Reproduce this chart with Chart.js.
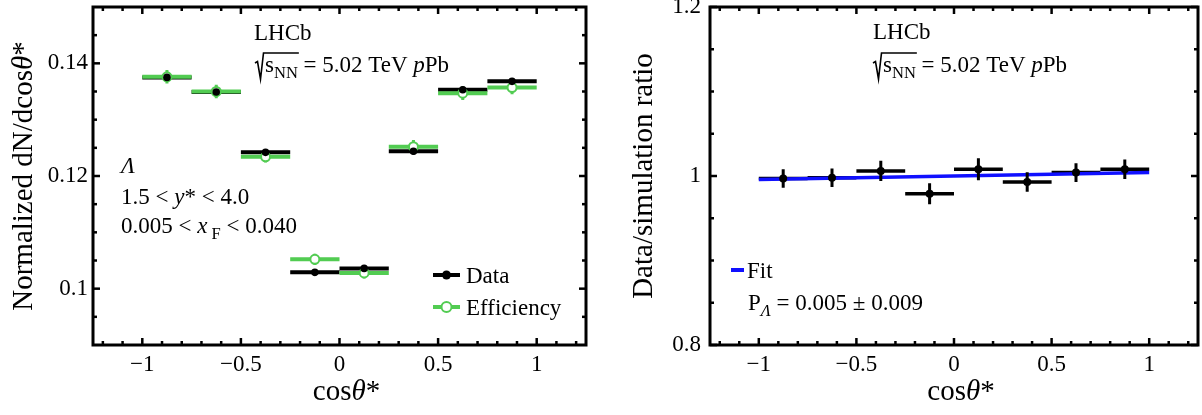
<!DOCTYPE html>
<html>
<head>
<meta charset="utf-8">
<script src="https://cdn.jsdelivr.net/npm/chart.js@4/dist/chart.umd.min.js"></script>
<style>
  html, body { margin: 0; padding: 0; background: #fff; }
  #wrap { position: relative; width: 1202px; height: 415px; }
  canvas { position: absolute; top: 0; }
</style>
</head>
<body>
<div id="wrap">
  <canvas id="left" width="600" height="415" style="left:0"></canvas>
  <canvas id="right" width="602" height="415" style="left:600px"></canvas>
</div>
<script>
/* =====================================
   Data
===================================== */
const binLow  = [-1, -0.75, -0.5, -0.25, 0, 0.25, 0.5, 0.75];
const binHigh = [-0.75, -0.5, -0.25, 0, 0.25, 0.5, 0.75, 1];
const binMid  = [-0.875, -0.625, -0.375, -0.125, 0.125, 0.375, 0.625, 0.875];

const dataValues = [0.1375, 0.1349, 0.1242, 0.1029, 0.1036, 0.1244, 0.1353, 0.1368];
const dataErrors = [0.0006, 0.0006, 0.0006, 0.0006, 0.0006, 0.0006, 0.0006, 0.0006];
const effValues  = [0.1376, 0.1350, 0.1234, 0.1052, 0.1028, 0.1252, 0.1347, 0.1357];
const effErrors  = [0.0012, 0.0012, 0.0010, 0.0010, 0.0010, 0.0012, 0.0012, 0.0012];

const ratioValues = [0.997, 0.998, 1.006, 0.979, 1.008, 0.993, 1.004, 1.008];
const ratioErrors = [0.011, 0.011, 0.012, 0.0125, 0.013, 0.0115, 0.011, 0.0115];
const fitX = [-1, 1];
const fitY = [0.996, 1.004];

/* ticks */
const xMajor = [-1, -0.5, 0, 0.5, 1];
const xMinor = [-1.2, -1.1, -0.9, -0.8, -0.7, -0.6, -0.4, -0.3, -0.2, -0.1,
                0.1, 0.2, 0.3, 0.4, 0.6, 0.7, 0.8, 0.9, 1.1, 1.2];
const leftYMajor = [0.1, 0.12, 0.14];
const leftYMinor = [0.095, 0.105, 0.11, 0.115, 0.125, 0.13, 0.135, 0.145];
const rightYMajor = [0.8, 1, 1.2];
const rightYMinor = [0.85, 0.9, 0.95, 1.05, 1.1, 1.15];

/* =====================================
   Helpers
===================================== */
const SERIF = '"Liberation Serif", "Times New Roman", serif';
const GREEN = '#52cc52';
Chart.defaults.font.family = SERIF;
Chart.defaults.color = '#000';

function hSegments(values) {
  const pts = [];
  values.forEach((v, i) => {
    pts.push({ x: binLow[i], y: v }, { x: binHigh[i], y: v }, { x: binHigh[i], y: null });
  });
  return pts;
}
function vSegments(values, errs) {
  const pts = [];
  values.forEach((v, i) => {
    pts.push({ x: binMid[i], y: v - errs[i] }, { x: binMid[i], y: v + errs[i] }, { x: binMid[i], y: null });
  });
  return pts;
}
function markers(values) {
  return values.map((v, i) => ({ x: binMid[i], y: v }));
}
function fmt(v) {
  return v < 0 ? '\u2212' + String(Math.abs(v)) : String(v);
}

// parts: [text, style]  style: n normal, i italic, s subscript, is italic subscript
function richText(ctx, x, y, parts, size, align) {
  const fontFor = st => {
    const sub = st === 's' || st === 'is';
    const it = st === 'i' || st === 'is';
    return (it ? 'italic ' : '') + (sub ? size * 0.72 : size) + 'px ' + SERIF;
  };
  let w = 0;
  parts.forEach(p => { ctx.font = fontFor(p[1]); w += ctx.measureText(p[0]).width; });
  let cx = align === 'center' ? x - w / 2 : x;
  parts.forEach(p => {
    ctx.font = fontFor(p[1]);
    const dy = (p[1] === 's' || p[1] === 'is') ? size * 0.26 : 0;
    ctx.fillText(p[0], cx, y + dy);
    cx += ctx.measureText(p[0]).width;
  });
  return w;
}

function sqrtLabel(ctx, x, y, size) {
  ctx.save();
  ctx.font = size + 'px ' + SERIF;
  const wS = ctx.measureText('s').width;
  ctx.font = (size * 0.72) + 'px ' + SERIF;
  const wNN = ctx.measureText('NN').width;
  ctx.strokeStyle = '#000';
  ctx.lineWidth = 1.6;
  ctx.beginPath();
  ctx.moveTo(x, y - 9);
  ctx.lineTo(x + 2.5, y - 10.5);
  ctx.lineTo(x + 5.5, y + 7);
  ctx.lineTo(x + 8.5, y - 19);
  ctx.lineTo(x + 10 + wS + wNN + 1, y - 19);
  ctx.stroke();
  ctx.restore();
  richText(ctx, x + 10, y, [['s', 'n'], ['NN', 's'], [' = 5.02 TeV ', 'n'], ['p', 'i'], ['Pb', 'n']], size, 'left');
}

function frameAndTicks(chart, yMajor, yMinor) {
  const { ctx, chartArea: a, scales: { x, y } } = chart;
  ctx.save();
  ctx.strokeStyle = '#000';
  ctx.lineCap = 'butt';
  const seg = (x1, y1, x2, y2) => { ctx.beginPath(); ctx.moveTo(x1, y1); ctx.lineTo(x2, y2); ctx.stroke(); };
  ctx.lineWidth = 2.5;
  const tx = (v, len) => {
    const p = x.getPixelForValue(v);
    seg(p, a.bottom, p, a.bottom - len);
    seg(p, a.top, p, a.top + len);
  };
  const ty = (v, len) => {
    const p = y.getPixelForValue(v);
    seg(a.left, p, a.left + len, p);
    seg(a.right, p, a.right - len, p);
  };
  xMajor.forEach(v => tx(v, 7));
  xMinor.forEach(v => tx(v, 4));
  yMajor.forEach(v => ty(v, 7));
  yMinor.forEach(v => ty(v, 4));
  ctx.lineWidth = 3;
  ctx.strokeRect(a.left, a.top, a.right - a.left, a.bottom - a.top);
  ctx.restore();
}

function axisTitles(chart, yParts, yBaseline) {
  const { ctx, chartArea: a, scales: { x } } = chart;
  ctx.save();
  ctx.fillStyle = '#000';
  ctx.textBaseline = 'alphabetic';
  richText(ctx, x.getPixelForValue(0) + 7, 400, [['cos', 'n'], ['\u03B8', 'i'], ['*', 'n']], 29, 'center');
  ctx.translate(yBaseline, (a.top + a.bottom) / 2);
  ctx.rotate(-Math.PI / 2);
  richText(ctx, 0, 0, yParts, 29, 'center');
  ctx.restore();
}

function baseOptions(yMin, yMax, yTicks, yWidth, padRight, yPad) {
  return {
    responsive: false,
    animation: false,
    devicePixelRatio: 1,
    events: [],
    layout: { padding: { top: 7, right: padRight, left: 0, bottom: 0 } },
    plugins: { legend: { display: false }, tooltip: { enabled: false } },
    scales: {
      x: {
        type: 'linear', min: -1.25, max: 1.25,
        grid: { display: false, drawTicks: false },
        border: { display: false },
        afterBuildTicks: s => { s.ticks = xMajor.map(v => ({ value: v })); },
        afterFit: s => { s.height = 70; s.paddingLeft = 0; s.paddingRight = 0; },
        ticks: { padding: 6, font: { size: 23 }, color: '#000', maxRotation: 0, callback: v => fmt(v) }
      },
      y: {
        type: 'linear', min: yMin, max: yMax,
        grid: { display: false, drawTicks: false },
        border: { display: false },
        afterBuildTicks: s => { s.ticks = yTicks.map(v => ({ value: v })); },
        afterFit: s => { s.width = yWidth; s.paddingTop = 0; s.paddingBottom = 0; },
        ticks: { padding: yPad, font: { size: 23 }, color: '#000', callback: v => fmt(v) }
      }
    }
  };
}

const segStyle = { pointRadius: 0, showLine: true, borderCapStyle: 'butt', spanGaps: false, fill: false };

/* =====================================
   Left panel: normalized distribution
===================================== */
new Chart(document.getElementById('left'), {
  type: 'line',
  data: {
    datasets: [
      { data: hSegments(dataValues), borderColor: '#000', borderWidth: 4, order: 6, ...segStyle },
      { data: vSegments(dataValues, dataErrors), borderColor: '#000', borderWidth: 3, order: 5, ...segStyle },
      { data: hSegments(effValues), borderColor: GREEN, borderWidth: 4, order: 4, ...segStyle },
      { data: vSegments(effValues, effErrors), borderColor: GREEN, borderWidth: 3, order: 3, ...segStyle },
      { data: markers(effValues), showLine: false, pointRadius: 4.5, pointBorderWidth: 2,
        pointBorderColor: GREEN, pointBackgroundColor: '#fff', order: 2 },
      { data: markers(dataValues), showLine: false, pointRadius: 3.8, pointBorderWidth: 0,
        pointBackgroundColor: '#000', pointBorderColor: '#000', order: 1 }
    ]
  },
  options: baseOptions(0.09, 0.15, leftYMajor, 93, 14, 5),
  plugins: [{
    id: 'leftDecor',
    afterDraw(chart) {
      const ctx = chart.ctx;
      frameAndTicks(chart, leftYMajor, leftYMinor);
      axisTitles(chart, [['Normalized dN/dcos', 'n'], ['\u03B8', 'i'], ['*', 'n']], 32);
      ctx.save();
      ctx.fillStyle = '#000';
      richText(ctx, 254, 40, [['LHCb', 'n']], 23, 'left');
      sqrtLabel(ctx, 255, 72, 23);
      richText(ctx, 121, 173, [['\u039B', 'i']], 23, 'left');
      richText(ctx, 121, 204, [['1.5 < ', 'n'], ['y', 'i'], ['* < 4.0', 'n']], 23, 'left');
      richText(ctx, 121, 233, [['0.005 < ', 'n'], ['x', 'i'], [' F', 's'], [' < 0.040', 'n']], 23, 'left');
      // legend
      ctx.lineWidth = 4;
      ctx.strokeStyle = '#000';
      ctx.beginPath(); ctx.moveTo(433, 275); ctx.lineTo(460, 275); ctx.stroke();
      ctx.beginPath(); ctx.arc(446.5, 275, 4.5, 0, Math.PI * 2); ctx.fillStyle = '#000'; ctx.fill();
      ctx.strokeStyle = GREEN;
      ctx.beginPath(); ctx.moveTo(433, 307); ctx.lineTo(460, 307); ctx.stroke();
      ctx.lineWidth = 2;
      ctx.beginPath(); ctx.arc(446.5, 307, 5, 0, Math.PI * 2); ctx.fillStyle = '#fff'; ctx.fill(); ctx.stroke();
      ctx.fillStyle = '#000';
      richText(ctx, 466, 283, [['Data', 'n']], 23, 'left');
      richText(ctx, 466, 315, [['Efficiency', 'n']], 23, 'left');
      ctx.restore();
    }
  }]
});

/* =====================================
   Right panel: data / simulation ratio
===================================== */
new Chart(document.getElementById('right'), {
  type: 'line',
  data: {
    datasets: [
      { data: hSegments(ratioValues), borderColor: '#000', borderWidth: 3.5, order: 4, ...segStyle },
      { data: fitX.map((v, i) => ({ x: v, y: fitY[i] })), borderColor: '#1010ff', borderWidth: 3.5, order: 3, ...segStyle },
      { data: vSegments(ratioValues, ratioErrors), borderColor: '#000', borderWidth: 3, order: 2, ...segStyle },
      { data: markers(ratioValues), showLine: false, pointRadius: 4, pointBorderWidth: 0,
        pointBackgroundColor: '#000', pointBorderColor: '#000', order: 1 }
    ]
  },
  options: baseOptions(0.8, 1.2, rightYMajor, 110, 3, 9),
  plugins: [{
    id: 'rightDecor',
    afterDraw(chart) {
      const ctx = chart.ctx;
      frameAndTicks(chart, rightYMajor, rightYMinor);
      axisTitles(chart, [['Data/simulation ratio', 'n']], 52);
      ctx.save();
      ctx.fillStyle = '#000';
      richText(ctx, 273, 39, [['LHCb', 'n']], 23, 'left');
      sqrtLabel(ctx, 273, 72, 23);
      ctx.strokeStyle = '#1010ff';
      ctx.lineWidth = 4;
      ctx.beginPath(); ctx.moveTo(131, 270); ctx.lineTo(144, 270); ctx.stroke();
      richText(ctx, 147, 278, [['Fit', 'n']], 23, 'left');
      richText(ctx, 148, 310, [['P', 'n'], ['\u039B', 'is'], [' = 0.005 \u00B1 0.009', 'n']], 23, 'left');
      ctx.restore();
    }
  }]
});
</script>
</body>
</html>
